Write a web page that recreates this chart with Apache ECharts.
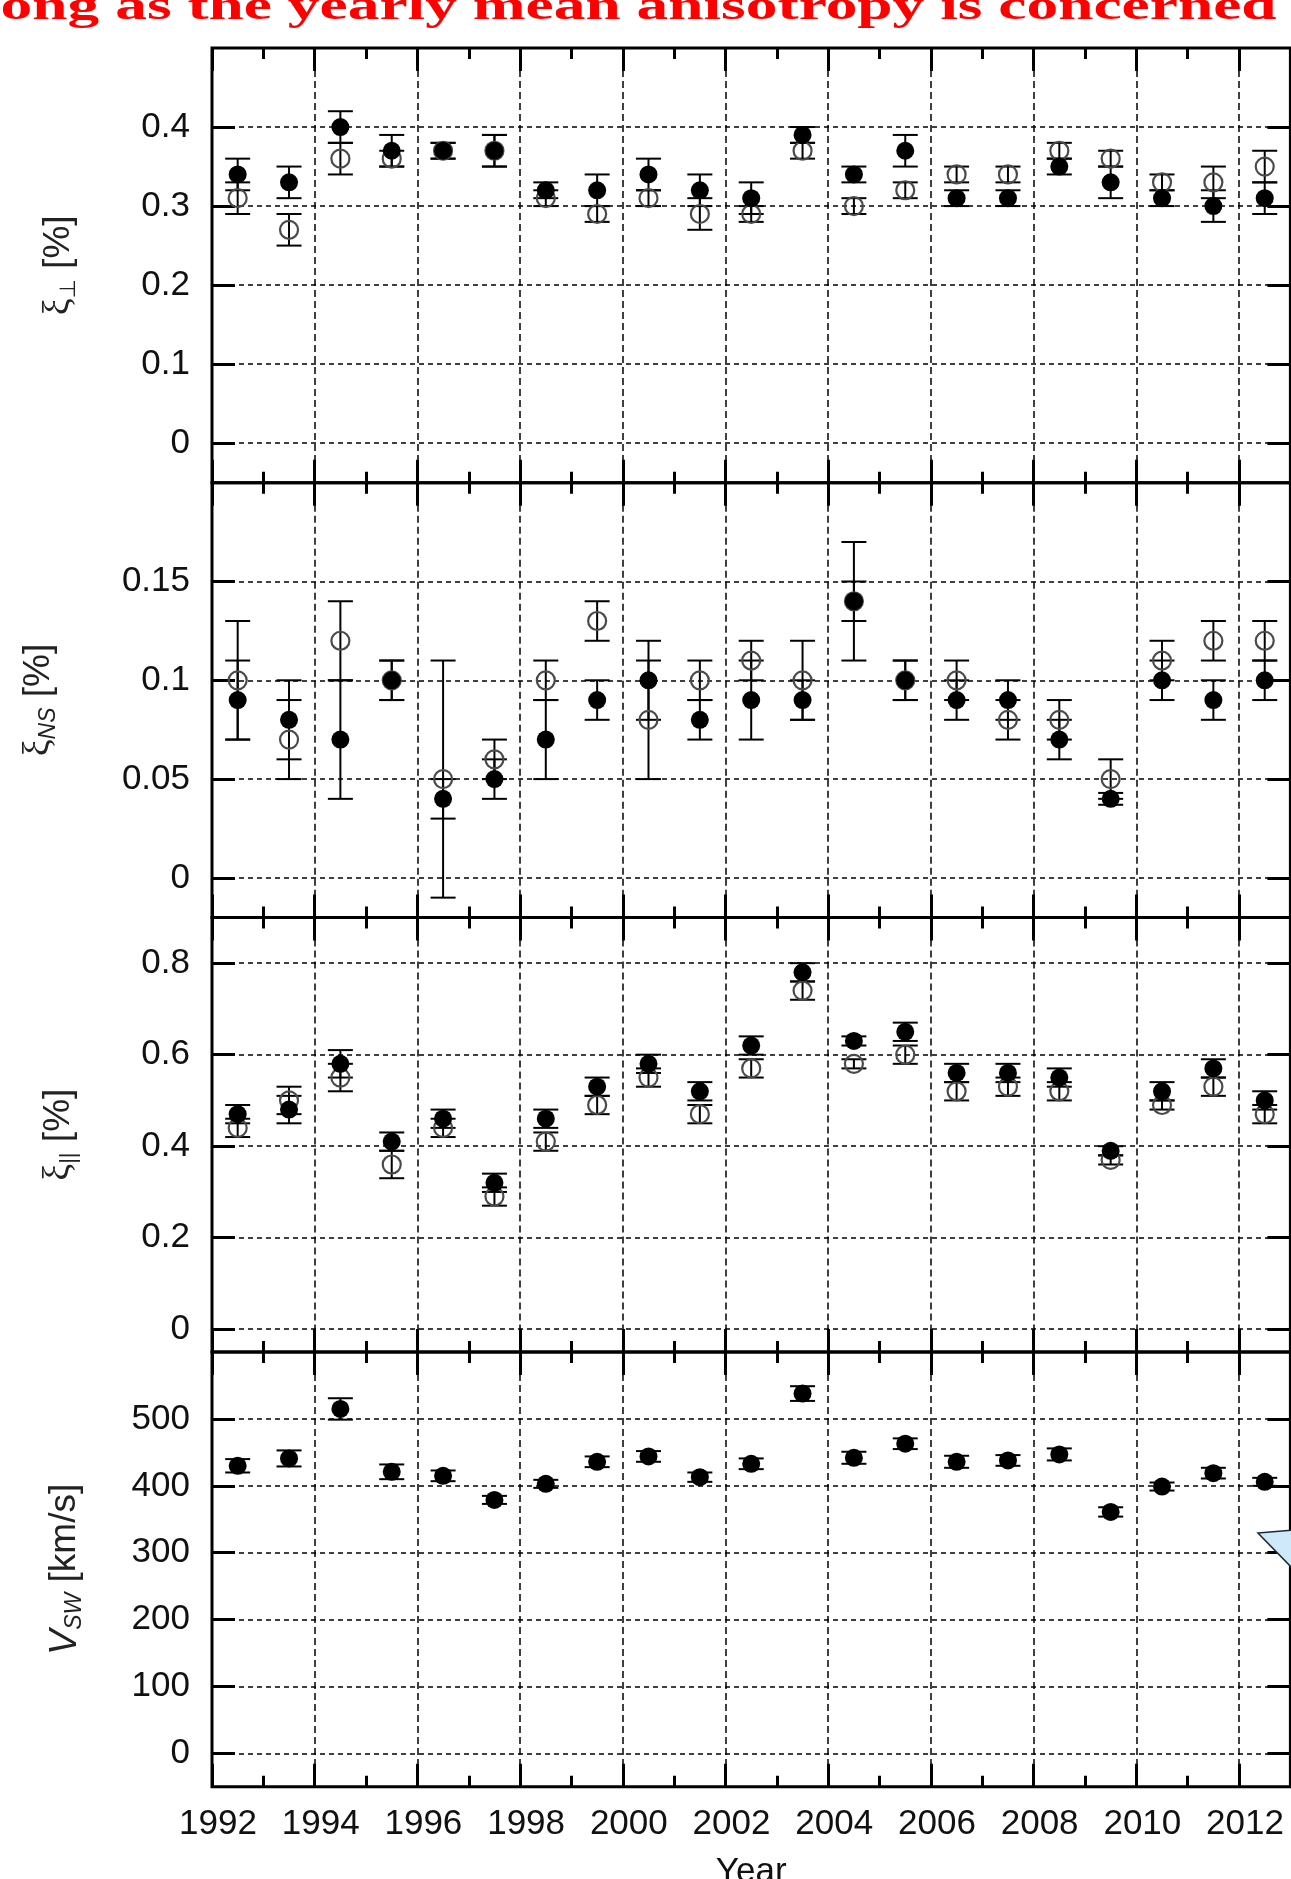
<!DOCTYPE html>
<html>
<head>
<meta charset="utf-8">
<script src="https://cdn.jsdelivr.net/npm/echarts@6/dist/echarts.min.js"></script>
<style>
  html, body { margin: 0; padding: 0; background: #fff; }
  #chart { width: 1291px; height: 1879px; }
</style>
</head>
<body>
<div id="chart"></div>
<script>
// yearly means, plotted at mid-year
const years = [1992.5, 1993.5, 1994.5, 1995.5, 1996.5, 1997.5, 1998.5, 1999.5, 2000.5, 2001.5, 2002.5,
  2003.5, 2004.5, 2005.5, 2006.5, 2007.5, 2008.5, 2009.5, 2010.5, 2011.5, 2012.5]
const majorYears = [1992, 1994, 1996, 1998, 2000, 2002, 2004, 2006, 2008, 2010, 2012]
const minorYears = [1993, 1995, 1997, 1999, 2001, 2003, 2005, 2007, 2009, 2011]

// xi perpendicular
const perpTicks = [0, 0.1, 0.2, 0.3, 0.4]
const perpFilled = [0.34, 0.33, 0.40, 0.37, 0.37, 0.37, 0.32, 0.32, 0.34, 0.32, 0.31, 0.39, 0.34, 0.37, 0.31, 0.31, 0.35, 0.33, 0.31, 0.30, 0.31]
const perpFilledErr = [0.02, 0.02, 0.02, 0.02, 0.01, 0.02, 0.01, 0.02, 0.02, 0.02, 0.02, 0.01, 0.01, 0.02, 0.01, 0.01, 0.01, 0.02, 0.01, 0.02, 0.02]
const perpOpen = [0.31, 0.27, 0.36, 0.36, 0.37, 0.37, 0.31, 0.29, 0.31, 0.29, 0.29, 0.37, 0.30, 0.32, 0.34, 0.34, 0.37, 0.36, 0.33, 0.33, 0.35]
const perpOpenErr = [0.02, 0.02, 0.02, 0.01, 0.01, 0.02, 0.01, 0.01, 0.01, 0.02, 0.01, 0.01, 0.01, 0.01, 0.01, 0.01, 0.01, 0.01, 0.01, 0.02, 0.02]

// xi NS
const nsTicks = [0, 0.05, 0.1, 0.15]
const nsFilled = [0.09, 0.08, 0.07, 0.10, 0.04, 0.05, 0.07, 0.09, 0.10, 0.08, 0.09, 0.09, 0.14, 0.10, 0.09, 0.09, 0.07, 0.04, 0.10, 0.09, 0.10]
const nsFilledErr = [0.02, 0.02, 0.03, 0.01, 0.01, 0.01, 0.02, 0.01, 0.02, 0.01, 0.02, 0.01, 0.03, 0.01, 0.01, 0.01, 0.01, 0.003, 0.01, 0.01, 0.01]
const nsOpen = [0.10, 0.07, 0.12, 0.10, 0.05, 0.06, 0.10, 0.13, 0.08, 0.10, 0.11, 0.10, 0.14, 0.10, 0.10, 0.08, 0.08, 0.05, 0.11, 0.12, 0.12]
const nsOpenErr = [0.03, 0.02, 0.02, 0.01, 0.06, 0.01, 0.01, 0.01, 0.03, 0.01, 0.01, 0.02, 0.01, 0.01, 0.01, 0.01, 0.01, 0.01, 0.01, 0.01, 0.01]

// xi parallel
const parTicks = [0, 0.2, 0.4, 0.6, 0.8]
const parFilled = [0.47, 0.48, 0.58, 0.41, 0.46, 0.32, 0.46, 0.53, 0.58, 0.52, 0.62, 0.78, 0.63, 0.65, 0.56, 0.56, 0.55, 0.39, 0.52, 0.57, 0.50]
const parFilledErr = [0.02, 0.03, 0.03, 0.02, 0.02, 0.02, 0.02, 0.02, 0.02, 0.02, 0.02, 0.02, 0.01, 0.02, 0.02, 0.02, 0.02, 0.01, 0.02, 0.02, 0.02]
const parOpen = [0.44, 0.50, 0.55, 0.36, 0.44, 0.29, 0.41, 0.49, 0.55, 0.47, 0.57, 0.74, 0.58, 0.60, 0.52, 0.53, 0.52, 0.37, 0.49, 0.53, 0.47]
const parOpenErr = [0.02, 0.03, 0.03, 0.03, 0.02, 0.02, 0.02, 0.02, 0.02, 0.02, 0.02, 0.02, 0.01, 0.02, 0.02, 0.02, 0.02, 0.01, 0.01, 0.02, 0.02]

// solar wind speed
const vswTicks = [0, 100, 200, 300, 400, 500]
const vsw = [430, 441, 515, 421, 415, 379, 403, 436, 444, 413, 433, 538, 442, 463, 436, 438, 447, 361, 399, 419, 406]
const vswErr = [10, 12, 16, 11, 8, 6, 6, 8, 8, 7, 8, 11, 9, 8, 9, 8, 9, 7, 6, 8, 6]

const panels = [
  { min: -0.05, max: 0.5, ticks: perpTicks, name: '{g|ξ}{perp|⊥}{n| [%]}', nameGap: 132, open: perpOpen, openErr: perpOpenErr, filled: perpFilled, filledErr: perpFilledErr },
  { min: -0.02, max: 0.2, ticks: nsTicks, name: '{g|ξ}{sub|NS}{n| [%]}', nameGap: 152, open: nsOpen, openErr: nsOpenErr, filled: nsFilled, filledErr: nsFilledErr },
  { min: -0.05, max: 0.9, ticks: parTicks, name: '{g|ξ}{par|||}{n| [%]}', nameGap: 132, open: parOpen, openErr: parOpenErr, filled: parFilled, filledErr: parFilledErr },
  { min: -50, max: 600, ticks: vswTicks, name: '{v|V}{sub|SW}{n| [km/s]}', nameGap: 126, open: null, filled: vsw, filledErr: vswErr },
]

const ink = '#111'
const font = 'Liberation Sans'
const top0 = 48
const panelH = 434.7

const nameRich = {
  g: { fontFamily: 'Liberation Serif', fontSize: 38, color: '#222', lineHeight: 42 },
  perp: { fontFamily: 'DejaVu Sans', fontSize: 22, color: '#222', verticalAlign: 'bottom', lineHeight: 20 },
  par: { fontFamily: font, fontSize: 22, color: '#222', verticalAlign: 'bottom', lineHeight: 20 },
  sub: { fontFamily: font, fontSize: 23, fontStyle: 'italic', color: '#222', verticalAlign: 'bottom', lineHeight: 21 },
  v: { fontFamily: font, fontSize: 38, fontStyle: 'italic', color: '#222', lineHeight: 42 },
  n: { fontFamily: font, fontSize: 37, color: '#222', lineHeight: 42 },
}

function errorBars(params, api) {
  const x = api.value(0)
  const v = api.value(1)
  const e = api.value(2)
  const hi = api.coord([x, v + e])
  const lo = api.coord([x, v - e])
  const w = 12.5
  const style = { stroke: '#000', lineWidth: 2 }
  return {
    type: 'group',
    children: [
      { type: 'line', shape: { x1: hi[0], y1: hi[1], x2: lo[0], y2: lo[1] }, style },
      { type: 'line', shape: { x1: hi[0] - w, y1: hi[1], x2: hi[0] + w, y2: hi[1] }, style },
      { type: 'line', shape: { x1: lo[0] - w, y1: lo[1], x2: lo[0] + w, y2: lo[1] }, style },
    ],
  }
}

const grid = []
const xAxis = []
const yAxis = []
const series = []

panels.forEach((p, i) => {
  grid.push({
    left: 212, width: 1078.4, top: top0 + i * panelH, height: panelH,
    show: true, borderColor: '#000', borderWidth: 3, backgroundColor: 'transparent',
    containLabel: false, outerBoundsMode: 'none',
  })

  const xBase = { gridIndex: i, type: 'value', min: 1992, max: 2013, axisLine: { show: false, onZero: false }, axisLabel: { show: false }, splitLine: { show: false } }
  const tick = (values, length) => ({ inside: true, length, customValues: values, lineStyle: { color: '#000', width: 3 } })
  const last = i === panels.length - 1
  xAxis.push({
    ...xBase, position: 'bottom',
    axisTick: tick(majorYears, 23),
    splitLine: { show: true, lineStyle: { color: '#000', width: 1.5, type: [7, 4] } },
    axisLabel: {
      show: last, customValues: majorYears, color: ink, fontFamily: font, fontSize: 35, margin: 20,
      padding: [0, 0, 0, 12], formatter: (v) => String(v),
    },
    name: last ? 'Year' : '', nameLocation: 'middle', nameGap: 68,
    nameTextStyle: { color: ink, fontFamily: font, fontSize: 35 },
  })
  xAxis.push({ ...xBase, position: 'bottom', axisTick: tick(minorYears, 11) })
  xAxis.push({ ...xBase, position: 'top', axisTick: tick(majorYears, 23) })
  xAxis.push({ ...xBase, position: 'top', axisTick: tick(minorYears, 11) })

  const yBase = { gridIndex: i, type: 'value', min: p.min, max: p.max, axisLine: { show: false, onZero: false } }
  yAxis.push({
    ...yBase, position: 'left',
    axisTick: tick(p.ticks, 23),
    axisLabel: {
      customValues: p.ticks, color: ink, fontFamily: font, fontSize: 35, margin: 22,
      formatter: (v) => String(Math.round(v * 1000) / 1000),
    },
    splitLine: { show: true, lineStyle: { color: '#000', width: 1.5, type: [5, 4] } },
    name: p.name, nameLocation: 'middle', nameRotate: 90, nameGap: p.nameGap,
    nameTextStyle: { rich: nameRich },
  })
  yAxis.push({ ...yBase, position: 'right', axisTick: tick(p.ticks, 23), axisLabel: { show: false }, splitLine: { show: false } })

  const axes = { xAxisIndex: i * 4, yAxisIndex: i * 2 }
  if (p.open) {
    series.push({
      type: 'custom', ...axes, renderItem: errorBars, silent: true,
      data: years.map((x, k) => [x, p.open[k], p.openErr[k]]),
    })
    series.push({
      type: 'scatter', ...axes, symbol: 'circle', symbolSize: 18, silent: true,
      itemStyle: { color: 'rgba(255,255,255,0)', borderColor: '#4a4a4a', borderWidth: 2.2, opacity: 1 },
      data: years.map((x, k) => [x, p.open[k]]),
    })
  }
  series.push({
    type: 'custom', ...axes, renderItem: errorBars, silent: true,
    data: years.map((x, k) => [x, p.filled[k], p.filledErr[k]]),
  })
  series.push({
    type: 'scatter', ...axes, symbol: 'circle', symbolSize: 18, silent: true,
    itemStyle: { color: '#000', opacity: 1 },
    data: years.map((x, k) => [x, p.filled[k]]),
  })
})

const chart = echarts.init(document.getElementById('chart'), null, { renderer: 'canvas' })
chart.setOption({
  backgroundColor: '#fff',
  animation: false,
  grid, xAxis, yAxis, series,
  graphic: [
    {
      type: 'text', x: -17, y: 8, scaleX: 1.51, silent: true,
      style: {
        text: 'long as the yearly mean anisotropy is concerned',
        font: 'bold 42px "Liberation Serif"', fill: '#ff0000', align: 'left', verticalAlign: 'middle',
      },
    },
    {
      type: 'polygon', silent: true, z: 100,
      shape: { points: [[1258, 1533], [1293, 1530], [1293, 1569]] },
      style: { fill: '#cfe9fb', stroke: '#1c2a36', lineWidth: 1.5 },
    },
  ],
})
</script>
</body>
</html>
